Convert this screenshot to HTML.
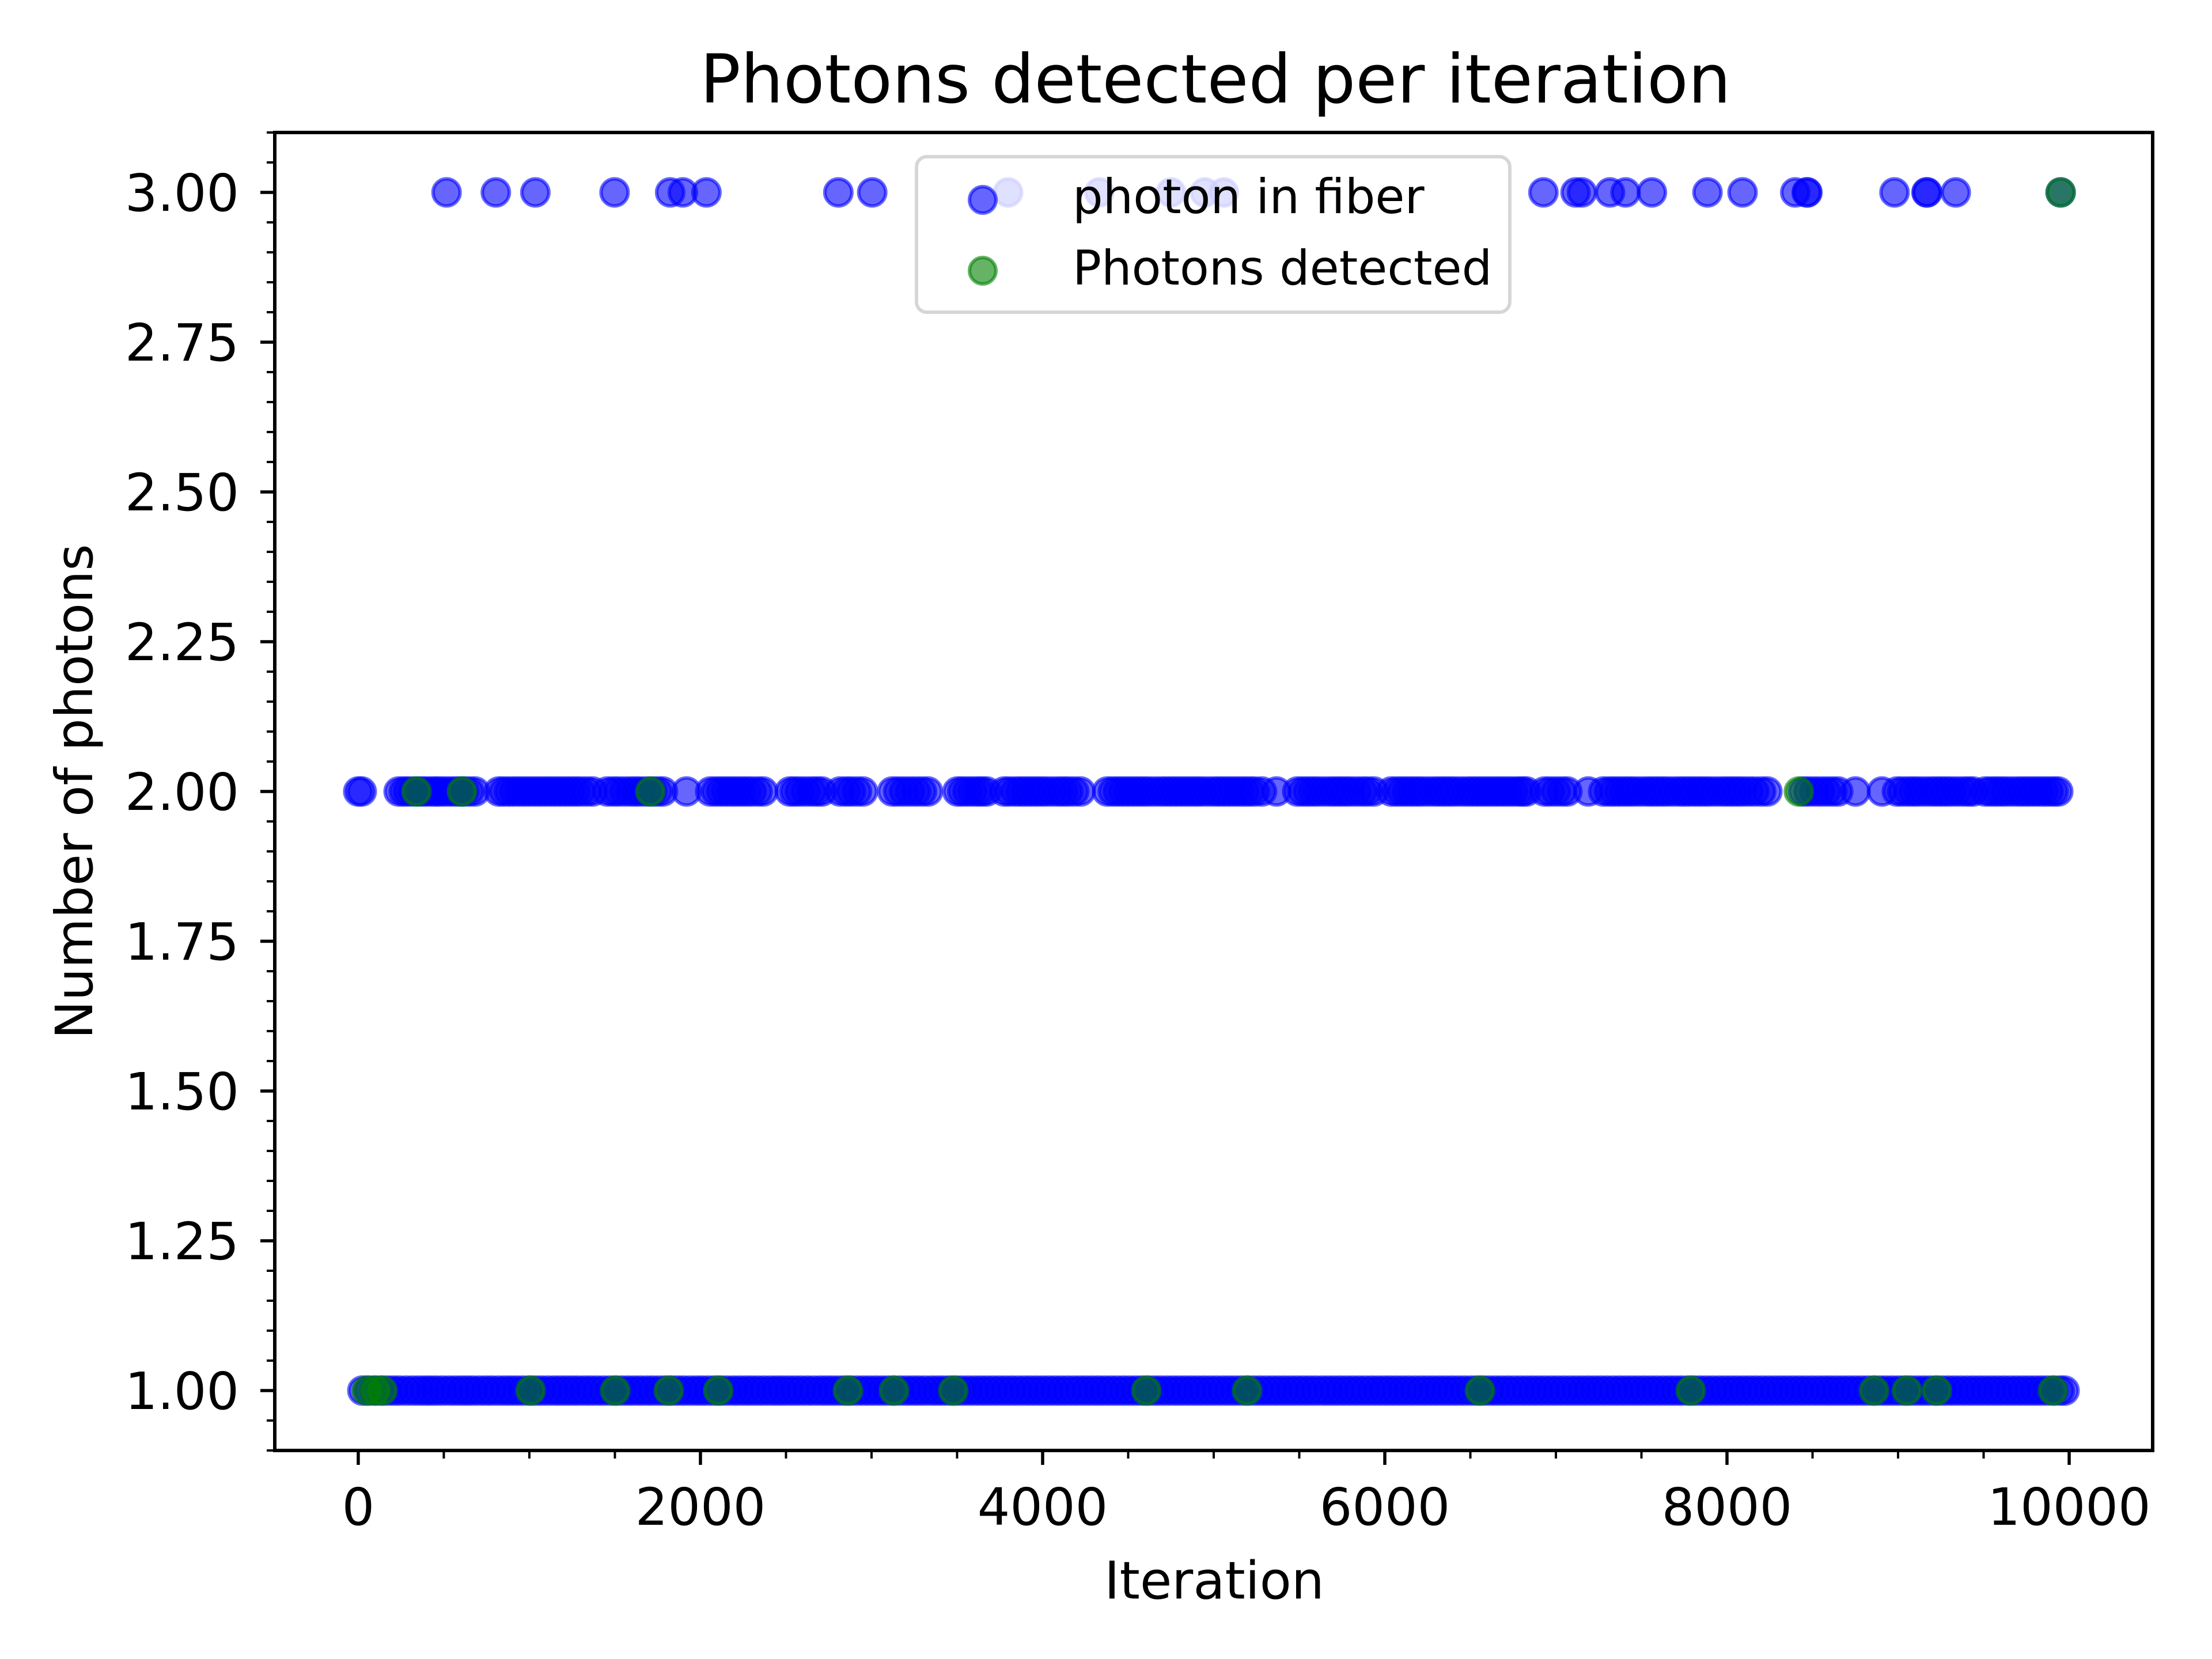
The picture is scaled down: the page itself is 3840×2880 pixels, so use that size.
<!DOCTYPE html>
<html><head><meta charset="utf-8"><title>Photons detected per iteration</title>
<style>html,body{margin:0;padding:0;background:#fff}svg{display:block}text{font-family:"DejaVu Sans","Liberation Sans",sans-serif;fill:#000}</style>
</head><body>
<svg id="chart" xmlns="http://www.w3.org/2000/svg" width="3840" height="2880" viewBox="0 0 3840 2880">
<rect x="0" y="0" width="3840" height="2880" fill="#fff"/>
<g id="marks"></g>
<g id="axes"></g>
<text x="2110" y="178" font-size="117" text-anchor="middle">Photons detected per iteration</text>
<text x="2108" y="2775" font-size="90" text-anchor="middle">Iteration</text>
<text x="0" y="0" font-size="89" text-anchor="middle" transform="translate(160,1374) rotate(-90)">Number of photons</text>
<g>
<rect x="1591" y="272" width="1030" height="270" rx="18" ry="18" fill="#fff" fill-opacity="0.8" stroke="#cccccc" stroke-opacity="0.8" stroke-width="6"/>
<circle cx="1706" cy="347" r="23" fill="#0000ff" fill-opacity="0.6" stroke="#0000ff" stroke-opacity="0.6" stroke-width="6"/>
<text x="1862" y="370" font-size="83">photon in fiber</text>
<circle cx="1706" cy="470" r="23" fill="#008000" fill-opacity="0.6" stroke="#008000" stroke-opacity="0.6" stroke-width="6"/>
<text x="1862" y="494" font-size="83">Photons detected</text>
</g>
</svg>
<script>
const fiberX3 = [516,804,1035,1498,1823,1897,2035,2806,3004,3798,4331,4750,4948,5059,6927,7115,7152,7316,7407,7561,7886,8091,8399,8466,8470,8979,9166,9170,9337,9950];
const fiberX2 = [0,20,236,265,290,320,350,375,400,430,455,480,510,540,570,595,620,650,683,821,850,880,910,940,970,1000,1030,1060,1090,1120,1150,1180,1210,1240,1270,1300,1335,1370,1455,1490,1520,1555,1590,1620,1650,1685,1720,1750,1781,1919,2057,2090,2120,2150,2180,2210,2240,2270,2300,2335,2367,2522,2550,2580,2615,2650,2680,2710,2815,2850,2880,2915,2950,3121,3155,3190,3225,3260,3295,3330,3502,3530,3560,3590,3620,3645,3673,3775,3805,3840,3870,3900,3930,3960,3990,4020,4055,4090,4120,4150,4185,4222,4377,4410,4440,4470,4500,4530,4560,4590,4620,4655,4690,4720,4750,4780,4810,4840,4870,4900,4930,4965,5000,5030,5060,5090,5120,5150,5180,5210,5240,5282,5367,5488,5520,5550,5580,5610,5645,5680,5710,5740,5770,5800,5835,5870,5900,5936,6037,6070,6100,6130,6160,6190,6220,6255,6290,6320,6350,6380,6410,6445,6480,6510,6540,6570,6600,6630,6660,6690,6720,6750,6780,6805,6828,6933,6965,7000,7035,7067,7189,7276,7310,7340,7370,7400,7430,7460,7495,7530,7560,7590,7620,7650,7685,7720,7750,7780,7810,7840,7870,7900,7935,7970,8000,8030,8060,8090,8125,8160,8200,8236,8444,8475,8510,8545,8580,8615,8650,8751,8906,8993,9025,9060,9090,9120,9155,9190,9220,9250,9280,9310,9345,9380,9410,9438,9508,9540,9570,9600,9630,9665,9700,9730,9760,9790,9820,9850,9880,9910,9936];
const fiberX1 = [24,60,95,132,170,205,240,280,318,355,390,422,455,492,530,566,602,636,670,708,745,780,818,855,890,925,960,998,1035,1070,1108,1145,1180,1215,1250,1285,1322,1358,1395,1432,1470,1505,1540,1576,1612,1648,1685,1720,1758,1794,1830,1865,1900,1938,1975,2010,2046,2083,2120,2156,2192,2228,2265,2300,2336,2372,2410,2445,2480,2516,2552,2588,2625,2662,2700,2735,2770,2806,2842,2878,2915,2952,2988,3024,3060,3095,3130,3167,3204,3240,3275,3312,3350,3385,3420,3456,3492,3528,3565,3602,3638,3674,3710,3746,3782,3818,3855,3892,3928,3964,4000,4036,4072,4108,4145,4182,4218,4254,4290,4326,4362,4398,4435,4472,4508,4544,4580,4616,4652,4688,4725,4762,4798,4834,4870,4906,4942,4978,5015,5052,5088,5124,5160,5196,5232,5268,5305,5342,5378,5414,5450,5486,5522,5558,5595,5632,5668,5704,5740,5776,5812,5848,5885,5922,5958,5994,6030,6066,6102,6138,6175,6212,6248,6284,6320,6356,6392,6428,6465,6502,6538,6574,6610,6646,6682,6718,6755,6792,6828,6864,6900,6936,6972,7008,7045,7082,7118,7154,7190,7226,7262,7298,7335,7372,7408,7444,7480,7516,7552,7588,7625,7662,7698,7734,7770,7806,7842,7878,7915,7952,7988,8024,8060,8096,8132,8168,8205,8242,8278,8314,8350,8386,8422,8458,8495,8532,8568,8604,8640,8676,8712,8748,8785,8822,8858,8894,8930,8966,9002,9038,9075,9112,9148,9184,9220,9256,9292,9328,9365,9402,9438,9474,9510,9546,9582,9618,9655,9692,9728,9764,9800,9836,9872,9908,9945,9973];
const detX3 = [9950];
const detX2 = [340,606,1707,8420];
const detX1 = [50,100,141,1007,1502,1815,2104,2862,3131,3478,4606,5195,6556,7788,8859,9051,9226,9906];
const xTicks = [0,2000,4000,6000,8000,10000];
const xTickLabels = ["0","2000","4000","6000","8000","10000"];
const yTicks = [1.00,1.25,1.50,1.75,2.00,2.25,2.50,2.75,3.00];
const yTickLabels = ["1.00","1.25","1.50","1.75","2.00","2.25","2.50","2.75","3.00"];

const NS = "http://www.w3.org/2000/svg";
const L = 477, R = 3737, T = 230, B = 2518;
const XMIN = -488, XMAX = 10488, YMIN = 0.9, YMAX = 3.1;
function xs(v){ return L + (v - XMIN) / (XMAX - XMIN) * (R - L); }
function ys(v){ return B - (v - YMIN) / (YMAX - YMIN) * (B - T); }
function mk(tag, attrs){ const e = document.createElementNS(NS, tag); for (const k in attrs) e.setAttribute(k, attrs[k]); return e; }

const marks = document.getElementById('marks');
function scatter(arr, yv, color, name){
  const g = mk('g', {});
  
  
  arr.forEach(v => {
    const c = mk('circle', {cx: xs(v), cy: ys(yv), r: 23.5, fill: color, 'fill-opacity': 0.6, stroke: color, 'stroke-opacity': 0.6, 'stroke-width': 6});
    
    
    g.appendChild(c);
  });
  marks.appendChild(g);
}
scatter(fiberX1, 1, '#0000ff', 'fiber-series-1');
scatter(fiberX2, 2, '#0000ff', 'fiber-series-2');
scatter(fiberX3, 3, '#0000ff', 'fiber-series-3');
scatter(detX1, 1, '#008000', 'detected-series-1');
scatter(detX2, 2, '#008000', 'detected-series-2');
scatter(detX3, 3, '#008000', 'detected-series-3');

const axes = document.getElementById('axes');
const frame = mk('rect', {x: L, y: T, width: R - L, height: B - T, fill: 'none', stroke: '#000', 'stroke-width': 6});


axes.appendChild(frame);

xTicks.forEach((v, i) => {
  const t = mk('line', {x1: xs(v), x2: xs(v), y1: B, y2: B + 25, stroke: '#000', 'stroke-width': 5.5});
  
  
  axes.appendChild(t);
  const lb = mk('text', {x: xs(v), y: 2647, 'font-size': 89, 'text-anchor': 'middle'});
  lb.textContent = xTickLabels[i];
  
  
  axes.appendChild(lb);
});
for (let v = -500; v <= 10500; v += 500) {
  if (v % 2000 === 0) continue;
  const x = xs(v); if (x < L || x > R) continue;
  const t = mk('line', {x1: x, x2: x, y1: B, y2: B + 14, stroke: '#000', 'stroke-width': 4});
  
  
  axes.appendChild(t);
}
yTicks.forEach((v, i) => {
  const t = mk('line', {x1: L - 25, x2: L, y1: ys(v), y2: ys(v), stroke: '#000', 'stroke-width': 5.5});
  
  
  axes.appendChild(t);
  const lb = mk('text', {x: 415, y: ys(v) + 32, 'font-size': 89, 'text-anchor': 'end'});
  lb.textContent = yTickLabels[i];
  
  
  axes.appendChild(lb);
});
for (let k = 18; k <= 62; k++) {
  if (k % 5 === 0) continue;
  const v = k * 0.05; const y = ys(v); if (y < T - 1 || y > B + 1) continue;
  const t = mk('line', {x1: L - 14, x2: L, y1: y, y2: y, stroke: '#000', 'stroke-width': 4});
  
  
  axes.appendChild(t);
}
</script>
</body></html>
